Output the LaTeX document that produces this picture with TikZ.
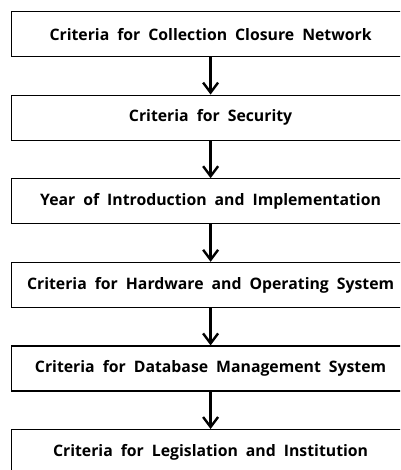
\documentclass[tikz,border=0pt]{standalone}
\usepackage{fontspec}
\setmainfont{Open Sans}
\usetikzlibrary{arrows.meta}
\newcommand{\myboxfont}{\fontsize{15.8}{18}\selectfont\bfseries\spaceskip=8pt plus 1pt\relax}
\begin{document}
\begin{tikzpicture}[x=1pt,y=1pt,
  stepbox/.style={draw=black, line width=1.2pt, minimum width=398pt, minimum height=45pt, anchor=north west, inner sep=0pt, font=\myboxfont},
  flow/.style={line width=2.6pt, -{Straight Barb[length=10pt,width=15pt,line width=2.4pt]}}]
\useasboundingbox (0,0) rectangle (400,-470);
\clip (0,0) rectangle (400,-470);
\node[stepbox] (b1) at (11,-11) {Criteria for Collection Closure Network};
\node[stepbox] (b2) at (11,-94.6) {Criteria for Security};
\node[stepbox] (b3) at (11,-178.2) {Year of Introduction and Implementation};
\node[stepbox] (b4) at (11,-261.8) {Criteria for Hardware and Operating System};
\node[stepbox] (b5) at (11,-345.4) {Criteria for Database Management System};
\node[stepbox] (b6) at (11,-429) {Criteria for Legislation and Institution};
\draw[flow] (b1.south) -- (b2.north);
\draw[flow] (b2.south) -- (b3.north);
\draw[flow] (b3.south) -- (b4.north);
\draw[flow] (b4.south) -- (b5.north);
\draw[flow] (b5.south) -- (b6.north);
\end{tikzpicture}
\end{document}
